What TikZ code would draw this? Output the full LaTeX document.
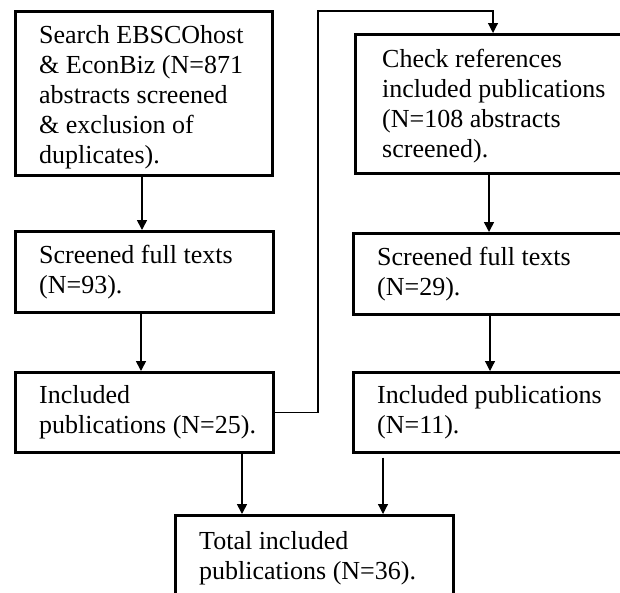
\documentclass[tikz,border=0pt]{standalone}
\usepackage{fontspec}
\setmainfont{Liberation Serif}
\usetikzlibrary{arrows.meta,calc}
\begin{document}
\begin{tikzpicture}[x=1pt,y=-1pt,
  box/.style={draw, line width=2.6pt, inner sep=0pt, anchor=north west},
  txt/.style={anchor=north west, inner sep=0pt, align=left,
    font=\fontsize{26}{30}\selectfont},
  arr/.style={line width=1.6pt, -{Triangle[width=10pt,length=10pt]}},
  thinarr/.style={line width=1.2pt, -{Triangle[width=10pt,length=10pt]}}]
\useasboundingbox (0,0) rectangle (620,592);
\clip (0,0) rectangle (620,592);

% left column
\node[box, minimum width=257pt, minimum height=164pt] (b1) at (14,10) {};
\node[box, minimum width=258pt, minimum height=81pt]  (b2) at (14,230) {};
\node[box, minimum width=258pt, minimum height=80pt]  (b3) at (14,371) {};
% right column (runs past the page edge)
\node[box, minimum width=286pt, minimum height=139pt] (b4) at (354,33) {};
\node[box, minimum width=288pt, minimum height=81pt]  (b5) at (352,232) {};
\node[box, minimum width=288pt, minimum height=80pt]  (b6) at (352,371) {};
% total
\node[box, minimum width=278pt, minimum height=90pt]  (b7) at (174,514) {};

% texts
\node[txt] (t1) at ($(b1.north west)+(25,15)$) {\rule{0pt}{18pt}Search EBSCOhost\\\& EconBiz (N=871\\abstracts screened\\\& exclusion of\\duplicates).};
\node[txt] (t2) at ($(b2.north west)+(25,15)$) {\rule{0pt}{18pt}Screened full texts\\(N=93).};
\node[txt] (t3) at ($(b3.north west)+(25,14)$) {\rule{0pt}{18pt}Included\\publications (N=25).};
\node[txt] (t4) at ($(b4.north west)+(28,16)$) {\rule{0pt}{18pt}Check references\\included publications\\(N=108 abstracts\\screened).};
\node[txt] (t5) at ($(b5.north west)+(25,15)$) {\rule{0pt}{18pt}Screened full texts\\(N=29).};
\node[txt] (t6) at ($(b6.north west)+(25,14)$) {\rule{0pt}{18pt}Included publications\\(N=11).};
\node[txt] (t7) at ($(b7.north west)+(25,17)$) {\rule{0pt}{18pt}Total included\\publications (N=36).};

% connectors
\coordinate (p1) at ($(b1.south west)+(128,0)$);
\coordinate (p2) at ($(b2.south west)+(127,0)$);
\coordinate (p3) at ($(b3.south west)+(228,0)$);
\coordinate (p4) at ($(b4.south west)+(135,0)$);
\coordinate (p5) at ($(b5.south west)+(138,0)$);
\coordinate (p6) at ($(b6.south west)+(31,4)$);
\coordinate (k)  at (318,11);
\coordinate (q4) at ($(b4.north west)+(139,0)$);

\draw[arr] (p1) -- (p1 |- b2.north);
\draw[arr] (p2) -- (p2 |- b3.north);
\draw[thinarr] (b3.east) -| (k) -| (q4);
\draw[arr] (p4) -- (p4 |- b5.north);
\draw[thinarr] (p5) -- (p5 |- b6.north);
\draw[arr] (p3) -- (p3 |- b7.north);
\draw[thinarr] (p6) -- (p6 |- b7.north);
\end{tikzpicture}
\end{document}
